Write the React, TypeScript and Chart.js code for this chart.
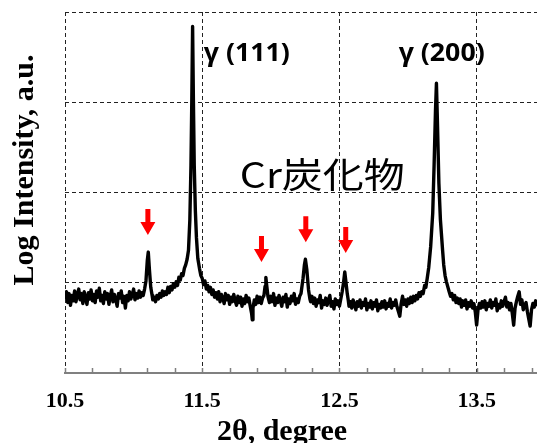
import React, { useEffect, useRef } from "react";
import { Chart, registerables } from "chart.js";

Chart.register(...registerables);

// ---- data (2θ in degrees, log intensity in arbitrary units) ----
const twoTheta = [
  10.50, 10.51, 10.52, 10.53, 10.54, 10.55, 10.56, 10.57, 10.58, 10.59,
  10.60, 10.61, 10.62, 10.63, 10.64, 10.65, 10.66, 10.67, 10.68, 10.69,
  10.70, 10.71, 10.72, 10.73, 10.74, 10.75, 10.76, 10.77, 10.78, 10.79,
  10.80, 10.81, 10.82, 10.83, 10.84, 10.85, 10.86, 10.87, 10.88, 10.89,
  10.90, 10.91, 10.92, 10.93, 10.94, 10.95, 10.96, 10.97, 10.98, 10.99,
  11.00, 11.01, 11.02, 11.03, 11.04, 11.05, 11.06, 11.07, 11.08, 11.09,
  11.10, 11.107, 11.115, 11.125, 11.135, 11.14, 11.15, 11.16, 11.17, 11.18,
  11.19, 11.20, 11.21, 11.22, 11.23, 11.24, 11.25, 11.26, 11.27, 11.28,
  11.29, 11.30, 11.31, 11.32, 11.33, 11.34, 11.35, 11.36, 11.37, 11.38,
  11.39, 11.40, 11.41, 11.418, 11.424, 11.43, 11.436, 11.442, 11.45, 11.458,
  11.468, 11.48, 11.49, 11.50, 11.51, 11.52, 11.53, 11.54, 11.55, 11.56,
  11.57, 11.58, 11.59, 11.60, 11.61, 11.62, 11.63, 11.64, 11.65, 11.66,
  11.67, 11.68, 11.69, 11.70, 11.71, 11.72, 11.73, 11.74, 11.75, 11.76,
  11.77, 11.78, 11.79, 11.80, 11.81, 11.82, 11.83, 11.84, 11.85, 11.86,
  11.865, 11.87, 11.88, 11.89, 11.90, 11.91, 11.92, 11.93, 11.94, 11.95,
  11.958, 11.964, 11.97, 11.98, 11.99, 12.00, 12.01, 12.02, 12.03, 12.04,
  12.05, 12.06, 12.07, 12.08, 12.09, 12.10, 12.11, 12.12, 12.13, 12.14,
  12.15, 12.16, 12.17, 12.18, 12.19, 12.20, 12.21, 12.22, 12.235, 12.245,
  12.252, 12.262, 12.275, 12.285, 12.29, 12.30, 12.31, 12.32, 12.33, 12.34,
  12.35, 12.36, 12.37, 12.38, 12.39, 12.40, 12.41, 12.42, 12.43, 12.44,
  12.45, 12.46, 12.47, 12.48, 12.49, 12.50, 12.51, 12.52, 12.53, 12.539,
  12.548, 12.557, 12.565, 12.57, 12.58, 12.59, 12.60, 12.61, 12.62, 12.63,
  12.64, 12.65, 12.66, 12.67, 12.68, 12.69, 12.70, 12.71, 12.72, 12.73,
  12.74, 12.75, 12.76, 12.77, 12.78, 12.79, 12.80, 12.81, 12.82, 12.83,
  12.84, 12.85, 12.86, 12.87, 12.88, 12.89, 12.90, 12.91, 12.92, 12.93,
  12.94, 12.95, 12.96, 12.97, 12.98, 12.99, 13.00, 13.01, 13.02, 13.03,
  13.04, 13.05, 13.06, 13.07, 13.08, 13.09, 13.10, 13.11, 13.121, 13.13,
  13.14, 13.151, 13.165, 13.18, 13.19, 13.20, 13.207, 13.214, 13.225, 13.236,
  13.252, 13.26, 13.27, 13.28, 13.289, 13.30, 13.31, 13.32, 13.33, 13.34,
  13.35, 13.36, 13.37, 13.38, 13.39, 13.40, 13.41, 13.42, 13.43, 13.44,
  13.45, 13.46, 13.47, 13.48, 13.49, 13.50, 13.51, 13.52, 13.53, 13.54,
  13.55, 13.56, 13.57, 13.58, 13.59, 13.60, 13.61, 13.62, 13.63, 13.64,
  13.65, 13.66, 13.67, 13.68, 13.69, 13.70, 13.71, 13.72, 13.73, 13.74,
  13.75, 13.76, 13.77, 13.78, 13.79, 13.80, 13.81, 13.82, 13.83, 13.84,
  13.85, 13.86, 13.87, 13.88, 13.89, 13.90, 13.91, 13.92, 13.93, 13.94,
  13.95,
];

const logIntensity = [
  0.82, 0.90, 0.78, 0.88, 0.75, 0.86, 0.80, 0.91, 0.79, 0.87,
  0.93, 0.81, 0.88, 0.77, 0.90, 0.83, 0.76, 0.89, 0.82, 0.92,
  0.80, 0.87, 0.78, 0.91, 0.84, 0.94, 0.80, 0.86, 0.77, 0.90,
  0.82, 0.88, 0.76, 0.85, 0.92, 0.79, 0.87, 0.81, 0.74, 0.88,
  0.83, 0.91, 0.78, 0.85, 0.72, 0.86, 0.80, 0.90, 0.82, 0.87,
  0.93, 0.81, 0.88, 0.83, 0.91, 0.84, 0.89, 0.86, 0.93, 1.02,
  1.25, 1.34, 1.15, 0.95, 0.86, 0.81, 0.84, 0.79, 0.86, 0.82,
  0.88, 0.84, 0.91, 0.86, 0.90, 0.87, 0.95, 0.89, 0.96, 0.92,
  0.99, 0.95, 1.01, 0.97, 1.06, 1.03, 1.10, 1.08, 1.16, 1.20,
  1.26, 1.36, 1.70, 2.30, 3.00, 3.84, 3.00, 2.30, 1.80, 1.50,
  1.27, 1.16, 1.08, 1.05, 0.98, 1.02, 0.93, 0.97, 0.90, 0.95,
  0.87, 0.92, 0.84, 0.89, 0.82, 0.90, 0.79, 0.87, 0.83, 0.77,
  0.88, 0.81, 0.86, 0.76, 0.84, 0.79, 0.87, 0.80, 0.75, 0.85,
  0.78, 0.84, 0.74, 0.82, 0.77, 0.86, 0.79, 0.83, 0.74, 0.66,
  0.59, 0.72, 0.81, 0.76, 0.85, 0.78, 0.84, 0.77, 0.83, 0.86,
  0.96, 1.06, 0.97, 0.84, 0.78, 0.85, 0.79, 0.88, 0.75, 0.83,
  0.78, 0.86, 0.80, 0.74, 0.84, 0.79, 0.87, 0.73, 0.82, 0.77,
  0.85, 0.80, 0.88, 0.76, 0.82, 0.78, 0.85, 0.88, 1.05, 1.20,
  1.26, 1.15, 0.92, 0.82, 0.79, 0.85, 0.77, 0.83, 0.74, 0.81,
  0.78, 0.86, 0.72, 0.80, 0.76, 0.83, 0.75, 0.81, 0.86, 0.74,
  0.79, 0.71, 0.82, 0.76, 0.80, 0.74, 0.82, 0.90, 1.00, 1.12,
  1.00, 0.88, 0.80, 0.74, 0.79, 0.72, 0.81, 0.76, 0.70, 0.79,
  0.74, 0.81, 0.72, 0.78, 0.75, 0.82, 0.70, 0.77, 0.73, 0.80,
  0.71, 0.78, 0.74, 0.81, 0.69, 0.76, 0.72, 0.79, 0.73, 0.80,
  0.71, 0.77, 0.74, 0.82, 0.72, 0.78, 0.75, 0.81, 0.73, 0.68,
  0.63, 0.77, 0.85, 0.76, 0.81, 0.74, 0.82, 0.77, 0.84, 0.78,
  0.85, 0.80, 0.86, 0.82, 0.89, 0.85, 0.90, 0.88, 0.97, 0.95,
  1.05, 1.17, 1.40, 1.77, 2.30, 2.90, 3.21, 2.80, 2.10, 1.70,
  1.36, 1.20, 1.08, 1.01, 0.96, 0.90, 0.85, 0.88, 0.81, 0.86,
  0.78, 0.83, 0.77, 0.82, 0.73, 0.80, 0.75, 0.81, 0.71, 0.78,
  0.74, 0.80, 0.72, 0.77, 0.68, 0.53, 0.70, 0.77, 0.72, 0.79,
  0.73, 0.80, 0.70, 0.77, 0.74, 0.81, 0.72, 0.78, 0.75, 0.82,
  0.69, 0.76, 0.72, 0.80, 0.74, 0.79, 0.84, 0.73, 0.78, 0.70,
  0.77, 0.66, 0.53, 0.72, 0.79, 0.85, 0.90, 0.76, 0.81, 0.70,
  0.75, 0.78, 0.68, 0.60, 0.52, 0.70, 0.77, 0.73, 0.80, 0.74,
  0.78,
];

// red arrows marking carbide peaks (tip position)
const arrowTheta = [11.104, 11.932, 12.255, 12.546];
const arrowTipLog = [1.53, 1.23, 1.45, 1.33];

// axis ticks
const xMinorTicks = [
  10.5, 10.7, 10.9, 11.1, 11.3, 11.5, 11.7, 11.9, 12.1, 12.3,
  12.5, 12.7, 12.9, 13.1, 13.3, 13.5, 13.7, 13.9,
];
const xMajorTicks = [10.5, 11.5, 12.5, 13.5];
const xMin = 10.5;
const xMax = 13.94;
const yMin = 0;
const yMax = 4;

// text
const peakLabels = ["γ (111)", "γ (200)"];
const peakLabelTheta = [11.512, 12.932];
const peakLabelLog = [3.46, 3.46];
const phaseLabel = "Cr炭化物";
const phaseLabelTheta = 11.774;
const phaseLabelLog = 2.05;
const xTitle = "2θ, degree";
const yTitle = "Log Intensity, a.u.";

const isMajor = (v: number) => xMajorTicks.some((m) => Math.abs(m - v) < 1e-6);

const overlayPlugin = {
  id: "overlay",
  afterDraw(chart: any) {
    const { ctx, chartArea, scales } = chart;
    const xs = scales.x;
    const ys = scales.y;
    ctx.save();

    // inward minor tick marks
    ctx.strokeStyle = "#7f7f7f";
    ctx.lineWidth = 1.5;
    xMinorTicks.forEach((v) => {
      const px = Math.round(xs.getPixelForValue(v)) + 0.5;
      ctx.beginPath();
      ctx.moveTo(px, chartArea.bottom);
      ctx.lineTo(px, chartArea.bottom - 5);
      ctx.stroke();
    });

    // red arrows
    ctx.fillStyle = "#ff0000";
    arrowTheta.forEach((t, i) => {
      const px = xs.getPixelForValue(t);
      const py = ys.getPixelForValue(arrowTipLog[i]);
      ctx.beginPath();
      ctx.moveTo(px, py);
      ctx.lineTo(px - 7.5, py - 13);
      ctx.lineTo(px - 2.5, py - 13);
      ctx.lineTo(px - 2.5, py - 26);
      ctx.lineTo(px + 2.5, py - 26);
      ctx.lineTo(px + 2.5, py - 13);
      ctx.lineTo(px + 7.5, py - 13);
      ctx.closePath();
      ctx.fill();
    });

    const drawStretched = (text: string, font: string, left: number, base: number, width: number) => {
      ctx.save();
      ctx.font = font;
      ctx.fillStyle = "#000";
      ctx.textAlign = "left";
      ctx.textBaseline = "alphabetic";
      const w = ctx.measureText(text).width;
      ctx.translate(left, base);
      ctx.scale(width / w, 1);
      ctx.fillText(text, 0, 0);
      ctx.restore();
    };

    peakLabels.forEach((t, i) => {
      drawStretched(
        t,
        "bold 25px 'Open Sans'",
        xs.getPixelForValue(peakLabelTheta[i]),
        ys.getPixelForValue(peakLabelLog[i]),
        86
      );
    });
    drawStretched(
      phaseLabel,
      "35px 'Noto Sans CJK JP'",
      xs.getPixelForValue(phaseLabelTheta),
      ys.getPixelForValue(phaseLabelLog),
      165
    );

    // axis titles
    ctx.fillStyle = "#000";
    ctx.font = "bold 30px 'Liberation Serif'";
    ctx.textAlign = "center";
    ctx.textBaseline = "alphabetic";
    ctx.fillText(xTitle, 282, 440);

    ctx.save();
    ctx.translate(33, 170);
    ctx.rotate(-Math.PI / 2);
    ctx.fillText(yTitle, 0, 0);
    ctx.restore();

    ctx.restore();
  },
};

export default function App() {
  const canvasRef = useRef<HTMLCanvasElement | null>(null);

  useEffect(() => {
    if (!canvasRef.current) return;
    const points = twoTheta.map((t, i) => ({ x: t, y: logIntensity[i] }));
    const chart = new Chart(canvasRef.current, {
      type: "scatter",
      data: {
        datasets: [
          {
            data: points,
            showLine: true,
            borderColor: "#000000",
            backgroundColor: "#000000",
            borderWidth: 3.4,
            pointRadius: 0,
            pointHoverRadius: 0,
            tension: 0,
            borderJoinStyle: "round",
          } as any,
        ],
      },
      options: {
        responsive: false,
        animation: false,
        devicePixelRatio: 1,
        events: [],
        layout: { padding: { top: 12, right: 0, bottom: 0, left: 0 } },
        plugins: {
          legend: { display: false },
          tooltip: { enabled: false },
          title: { display: false },
        },
        scales: {
          x: {
            type: "linear",
            min: xMin,
            max: xMax,
            afterBuildTicks: (scale: any) => {
              scale.ticks = xMinorTicks.map((v) => ({ value: v }));
            },
            afterFit: (scale: any) => {
              scale.height = 70;
              scale.paddingLeft = 0;
              scale.paddingRight = 0;
            },
            ticks: {
              autoSkip: false,
              maxRotation: 0,
              minRotation: 0,
              padding: 15,
              color: "#000",
              font: { family: "'Liberation Serif'", size: 22, weight: "bold" },
              callback: (v: any) => (isMajor(Number(v)) ? Number(v).toFixed(1) : ""),
            },
            grid: {
              drawTicks: false,
              lineWidth: 1,
              color: (c: any) => (c.tick && isMajor(c.tick.value) ? "#222222" : "rgba(0,0,0,0)"),
            },
            border: { display: true, color: "#808080", width: 2, dash: [4, 3] },
          },
          y: {
            type: "linear",
            min: yMin,
            max: yMax,
            afterFit: (scale: any) => {
              scale.width = 65;
              scale.paddingTop = 0;
              scale.paddingBottom = 0;
            },
            ticks: { display: false, stepSize: 1 },
            grid: { drawTicks: false, lineWidth: 1, color: "#222222" },
            border: { display: false, dash: [4, 3] },
          },
        },
      } as any,
      plugins: [overlayPlugin],
    });
    return () => chart.destroy();
  }, []);

  return (
    <div style={{ position: "absolute", left: 0, top: 0, width: 537, height: 443, background: "#fff" }}>
      <canvas ref={canvasRef} width={537} height={443} style={{ display: "block" }} />
    </div>
  );
}
